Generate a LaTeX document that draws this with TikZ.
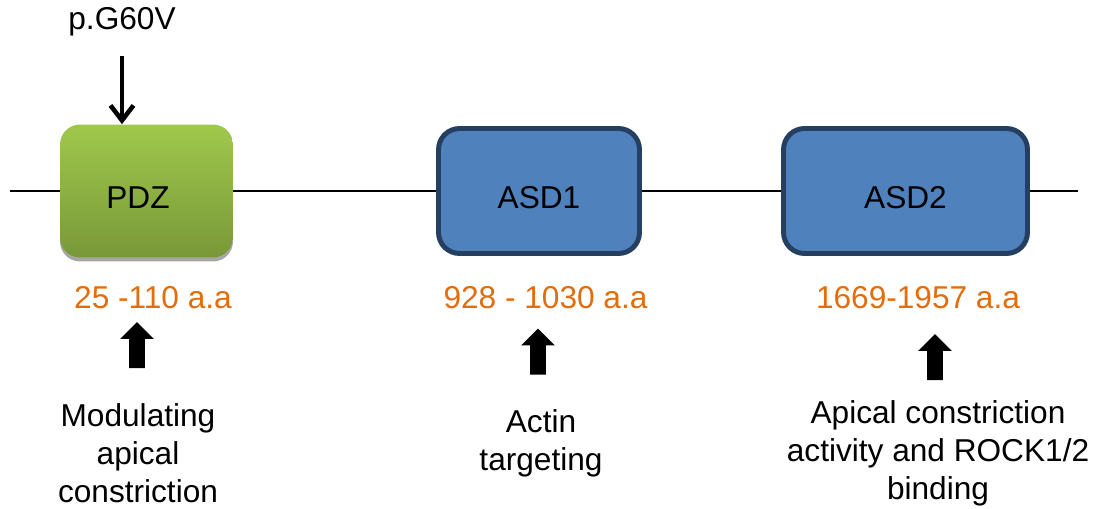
\documentclass[tikz,border=0pt]{standalone}
\usepackage{fontspec}
\setmainfont{Liberation Sans}
\usetikzlibrary{shapes.arrows, arrows.meta, shadows}
\definecolor{pdztop}{RGB}{160,200,76}
\definecolor{pdzbottom}{RGB}{120,152,56}
\definecolor{asdblue}{RGB}{79,129,189}
\definecolor{asdborder}{RGB}{36,63,96}
\definecolor{aaorange}{RGB}{228,108,10}

\begin{document}
\begin{tikzpicture}[
        x=0.02cm, y=-0.02cm,
        font=\fontsize{18}{21.6}\selectfont,
        pdzbox/.style={rectangle, top color=pdztop, bottom color=pdzbottom, minimum width=3.46cm, minimum height=2.66cm, rounded corners=0.4cm, inner sep=0pt, drop shadow={shadow xshift=0pt, shadow yshift=-0.08cm, fill=black!35, opacity=1}},
        asdbox/.style={rectangle, draw=asdborder, fill=asdblue, line width=2.8pt, minimum height=2.5cm, rounded corners=0.42cm, inner sep=0pt},
        boxtext/.style={yshift=-0.14cm},
        spine/.style={line width=0.9pt},
        mutarrow/.style={line width=2.6pt, -{Straight Barb[length=0.3cm, width=0.46cm, line width=2.6pt]}},
        aarange/.style={text=aaorange},
        uparrow/.style={single arrow, fill=black, rotate=90, minimum height=0.92cm, single arrow head extend=0.18cm, inner xsep=0pt, inner ysep=0.15cm},
        note/.style={align=center, inner sep=0pt}
    ]
    \useasboundingbox (0,0) rectangle (1097,509);

    % protein backbone ends
    \coordinate (west) at (10,191);
    \coordinate (east) at (1078,191);

    % domains
    \node[pdzbox, label={[boxtext, xshift=-0.17cm]center:PDZ}] (pdz) at (146.5,191) {};
    \node[asdbox, minimum width=4.02cm, label={[boxtext]center:ASD1}] (asd1) at (539,191) {};
    \node[asdbox, minimum width=4.88cm, label={[boxtext]center:ASD2}] (asd2) at (905.5,191) {};

    \draw[spine] (west) -- (pdz);
    \draw[spine] (pdz) -- (asd1);
    \draw[spine] (asd1) -- (asd2);
    \draw[spine] (asd2) -- (east);

    % mutation site
    \node (mut) at (122,22) {p.G60V};
    \draw[mutarrow, shorten <=0.26cm] (mut) -- (pdz.north -| mut);

    % residue ranges
    \node[aarange] (r1) at (153,298) {25 -110 a.a};
    \node[aarange] (r2) at (545.5,298) {928 - 1030 a.a};
    \node[aarange] (r3) at (918,298) {1669-1957 a.a};

    % functions
    \node[uparrow] (up1) at (137,349) {};
    \node[uparrow] (up2) at (538,355.5) {};
    \node[uparrow] (up3) at (935,361) {};

    \node[note] (f1) at (138,453) {Modulating\\apical\\constriction};
    \node[note] (f2) at (541,443) {Actin\\targeting};
    \node[note] (f3) at (938,453) {Apical constriction\\activity and ROCK1/2\\binding};
\end{tikzpicture}
\end{document}
